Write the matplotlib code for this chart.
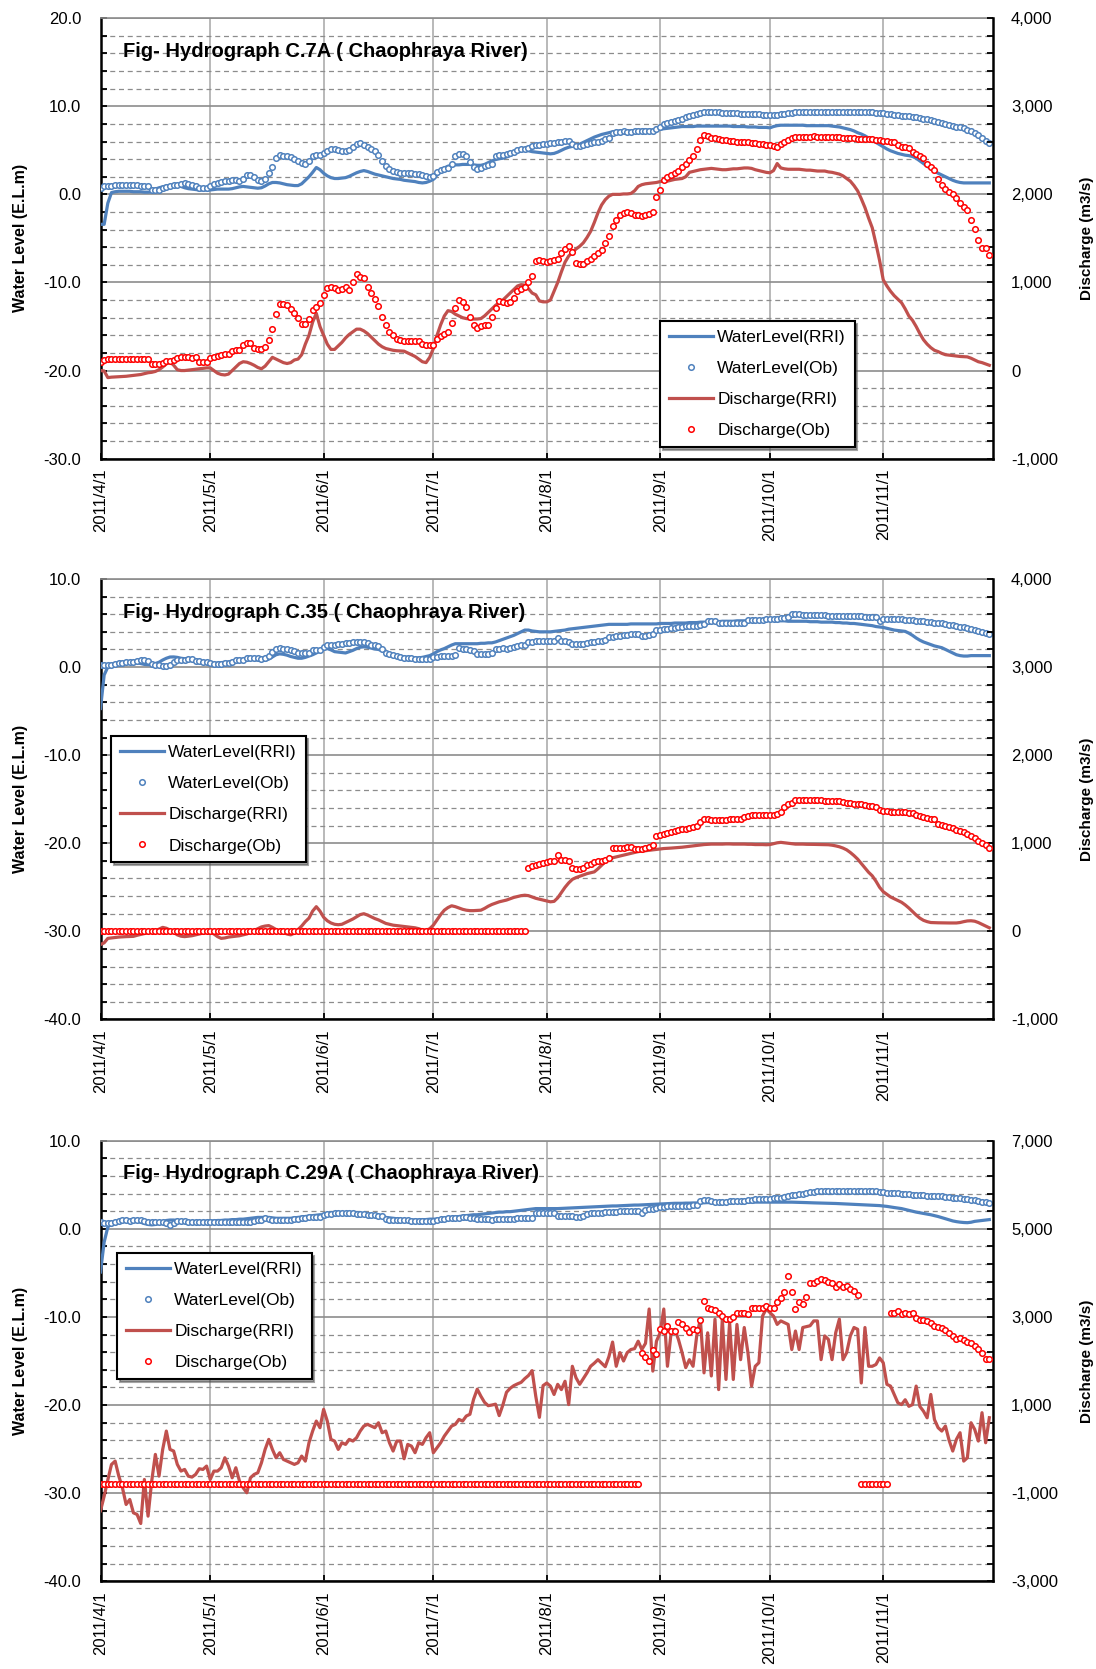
import numpy as np
import pandas as pd
import matplotlib
matplotlib.use('Agg')
import matplotlib.pyplot as plt
from matplotlib.ticker import MultipleLocator, FuncFormatter, FixedLocator

plt.rcParams['font.family'] = ['Liberation Sans', 'DejaVu Sans']

# daily series start on 2011/4/1
start_date = '2011-04-01'
month_starts = ['2011-04-01', '2011-05-01', '2011-06-01', '2011-07-01',
                '2011-08-01', '2011-09-01', '2011-10-01', '2011-11-01']
month_labels = ['2011/4/1', '2011/5/1', '2011/6/1', '2011/7/1',
                '2011/8/1', '2011/9/1', '2011/10/1', '2011/11/1']
legend_labels = ['WaterLevel(RRI)', 'WaterLevel(Ob)', 'Discharge(RRI)', 'Discharge(Ob)']
titles = ['Fig- Hydrograph C.7A ( Chaophraya River)',
          'Fig- Hydrograph C.35 ( Chaophraya River)',
          'Fig- Hydrograph C.29A ( Chaophraya River)']

# ---------------- C.7A ----------------
wl1_rri = [
    -3.4, -3.4, -1.0, 0.2, 0.3, 0.35, 0.35, 0.35, 0.35, 0.3,
    0.3, 0.3, 0.25, 0.25, 0.3, 0.6, 0.75, 0.85, 0.95, 1.0,
    1.05, 1.0, 0.9, 0.75, 0.65, 0.6, 0.55, 0.5, 0.5, 0.5,
    0.5, 0.55, 0.6, 0.6, 0.6, 0.6, 0.65, 0.75, 0.85, 0.9,
    0.85, 0.8, 0.75, 0.7, 0.75, 0.95, 1.2, 1.35, 1.35, 1.3,
    1.2, 1.1, 1.05, 1.0, 1.0, 1.2, 1.6, 2.0, 2.5, 3.05,
    2.8, 2.4, 2.1, 1.9, 1.8, 1.8, 1.85, 1.9, 2.05, 2.25,
    2.45, 2.6, 2.7, 2.6, 2.45, 2.3, 2.2, 2.1, 2.0, 1.9,
    1.8, 1.75, 1.7, 1.6, 1.55, 1.5, 1.45, 1.35, 1.3, 1.35,
    1.5, 1.7, 2.2, 2.7, 3.0, 3.2, 3.3, 3.35, 3.35, 3.4,
    3.4, 3.4, 3.35, 3.3, 3.3, 3.4, 3.6, 3.8, 3.95, 4.05,
    4.1, 4.25, 4.4, 4.6, 4.8, 4.95, 5.0, 4.95, 4.85, 4.8,
    4.75, 4.7, 4.65, 4.6, 4.65, 4.8, 5.0, 5.2, 5.35, 5.45,
    5.6, 5.7, 5.9, 6.1, 6.3, 6.5, 6.65, 6.8, 6.9, 7.0,
    7.1, 7.15, 7.2, 7.2, 7.2, 7.2, 7.25, 7.25, 7.3, 7.3,
    7.3, 7.3, 7.35, 7.4, 7.45, 7.5, 7.55, 7.6, 7.65, 7.7,
    7.7, 7.7, 7.7, 7.75, 7.75, 7.75, 7.75, 7.75, 7.75, 7.75,
    7.75, 7.75, 7.75, 7.7, 7.7, 7.7, 7.7, 7.65, 7.65, 7.65,
    7.6, 7.6, 7.6, 7.55, 7.7, 7.8, 7.85, 7.85, 7.85, 7.85,
    7.85, 7.85, 7.85, 7.8, 7.8, 7.8, 7.8, 7.8, 7.8, 7.8,
    7.75, 7.7, 7.65, 7.55, 7.45, 7.35, 7.2, 7.0, 6.85, 6.65,
    6.4, 6.15, 5.9, 5.65, 5.4, 5.15, 4.95, 4.8, 4.65, 4.55,
    4.45, 4.4, 4.3, 4.1, 3.8, 3.5, 3.2, 2.9, 2.65, 2.4,
    2.2, 2.0, 1.8, 1.6, 1.45, 1.35, 1.3, 1.3, 1.3, 1.3,
    1.3, 1.3, 1.3, 1.3]
wl1_ob = [
    0.7, 0.9, 1.0, 1.0, 1.05, 1.05, 1.05, 1.05, 1.05, 1.05,
    1.05, 1.0, 1.0, 1.0, 0.5, 0.45, 0.5, 0.7, 0.85, 0.95,
    1.05, 1.1, 1.2, 1.25, 1.2, 1.1, 0.9, 0.7, 0.7, 0.75,
    1.0, 1.2, 1.3, 1.4, 1.5, 1.55, 1.6, 1.6, 1.55, 1.8,
    2.2, 2.2, 2.0, 1.6, 1.5, 1.8, 2.4, 3.1, 4.1, 4.5,
    4.4, 4.3, 4.2, 4.0, 3.8, 3.6, 3.4, 3.8, 4.3, 4.5,
    4.5, 4.7, 4.9, 5.1, 5.1, 5.0, 4.9, 4.9, 5.0, 5.4,
    5.7, 5.8, 5.6, 5.4, 5.2, 4.9, 4.5, 3.8, 3.2, 2.9,
    2.6, 2.5, 2.4, 2.4, 2.4, 2.4, 2.35, 2.3, 2.2, 2.1,
    2.0, 2.1, 2.5, 2.8, 2.9, 3.0, 3.5, 4.4, 4.6, 4.6,
    4.3, 3.7, 3.1, 2.9, 3.0, 3.2, 3.3, 3.4, 4.4, 4.5,
    4.5, 4.6, 4.7, 4.8, 5.0, 5.1, 5.2, 5.3, 5.5, 5.6,
    5.6, 5.7, 5.7, 5.8, 5.8, 5.9, 6.0, 6.1, 6.1, 5.7,
    5.5, 5.5, 5.6, 5.7, 5.8, 5.9, 6.0, 6.1, 6.3, 6.4,
    7.0, 7.1, 7.1, 7.15, 7.1, 7.1, 7.15, 7.15, 7.2, 7.2,
    7.2, 7.2, 7.4, 7.7, 8.0, 8.1, 8.2, 8.3, 8.4, 8.6,
    8.8, 8.9, 9.0, 9.1, 9.2, 9.3, 9.3, 9.3, 9.3, 9.3,
    9.25, 9.25, 9.2, 9.2, 9.2, 9.15, 9.15, 9.15, 9.1, 9.1,
    9.1, 9.05, 9.05, 9.0, 9.0, 9.0, 9.1, 9.15, 9.2, 9.25,
    9.3, 9.3, 9.3, 9.3, 9.3, 9.3, 9.3, 9.3, 9.3, 9.3,
    9.3, 9.3, 9.3, 9.3, 9.3, 9.3, 9.3, 9.3, 9.3, 9.3,
    9.3, 9.3, 9.25, 9.25, 9.2, 9.15, 9.1, 9.05, 9.0, 8.95,
    8.9, 8.85, 8.8, 8.75, 8.7, 8.6, 8.5, 8.4, 8.3, 8.2,
    8.1, 8.0, 7.9, 7.8, 7.7, 7.6, 7.5, 7.35, 7.2, 7.0,
    6.7, 6.4, 6.1, 5.8]
q1_rri = [
    0, -5, -80, -75, -72, -70, -68, -65, -60, -55,
    -50, -45, -35, -25, -20, -10, 10, 40, 75, 100,
    60, 10, 0, 0, 5, 10, 15, 20, 25, 30,
    30, 0, -30, -45, -50, -40, 0, 40, 80, 100,
    95, 80, 60, 35, 20, 50, 100, 150, 130, 110,
    90, 80, 90, 120, 130, 180, 300, 400, 550, 650,
    500, 400, 300, 240, 240, 280, 320, 370, 410, 440,
    470, 470, 450, 420, 380, 340, 300, 270, 250, 240,
    230, 225, 222, 220, 200, 180, 160, 130, 100, 90,
    150, 250, 400, 520, 620, 680, 670, 640, 620, 600,
    590, 585, 585, 585, 590, 620, 660, 700, 740, 770,
    800, 840, 880, 920, 960, 975, 970, 930, 880, 860,
    790, 780, 780, 800, 900, 1000, 1120, 1230, 1300, 1340,
    1380, 1410, 1450, 1510, 1580, 1680, 1790, 1880, 1940, 1980,
    2000, 2000, 2000, 2005, 2005, 2010, 2040, 2090, 2110, 2120,
    2125, 2130, 2135, 2145, 2150, 2150, 2160, 2170, 2175, 2180,
    2200, 2250, 2260, 2270, 2280, 2285, 2290, 2295, 2290, 2285,
    2280, 2280, 2285, 2290, 2290, 2295, 2300, 2300, 2295, 2280,
    2270, 2260, 2250, 2245, 2270, 2350, 2300, 2290, 2285, 2285,
    2285, 2285, 2280, 2275, 2275, 2270, 2265, 2265, 2265, 2255,
    2250, 2240, 2230, 2210, 2180, 2150, 2100, 2040, 1950, 1850,
    1730, 1620, 1440, 1250, 1030, 960, 900, 850, 810, 770,
    700, 620, 570, 500, 420, 350, 300, 260, 230, 215,
    195, 180, 175, 170, 165, 160, 158, 155, 140, 120,
    100, 90, 75, 60]
q1_ob = [
    100, 120, 130, 135, 135, 135, 135, 135, 135, 135,
    135, 130, 130, 130, 80, 75, 80, 90, 105, 110,
    115, 140, 150, 150, 150, 145, 150, 100, 95, 100,
    140, 150, 160, 175, 185, 185, 220, 230, 230, 290,
    310, 310, 260, 240, 240, 270, 350, 470, 640, 760,
    760, 740, 700, 650, 600, 530, 530, 590, 690, 720,
    770, 860, 940, 950, 940, 910, 930, 950, 920, 1000,
    1100, 1065, 1050, 950, 875, 810, 730, 610, 520, 440,
    400, 360, 345, 340, 340, 335, 335, 335, 300, 290,
    290, 290, 355, 390, 410, 440, 545, 710, 800, 780,
    720, 605, 520, 480, 510, 515, 520, 610, 710, 790,
    780, 770, 780, 820, 900, 930, 950, 1010, 1070, 1240,
    1250, 1240, 1230, 1240, 1250, 1270, 1330, 1380, 1410, 1350,
    1220, 1210, 1210, 1240, 1270, 1300, 1330, 1370, 1450, 1530,
    1640, 1710, 1770, 1790, 1800, 1790, 1770, 1765, 1760, 1770,
    1780, 1800, 1965, 2050, 2160, 2200, 2220, 2240, 2260, 2310,
    2350, 2390, 2430, 2520, 2620, 2670, 2660, 2640, 2640, 2630,
    2620, 2620, 2610, 2610, 2600, 2600, 2600, 2590, 2580, 2580,
    2575, 2570, 2560, 2555, 2550, 2540, 2570, 2600, 2620, 2640,
    2650, 2655, 2655, 2655, 2655, 2660, 2655, 2655, 2650, 2655,
    2655, 2650, 2650, 2640, 2640, 2635, 2635, 2630, 2630, 2625,
    2625, 2625, 2620, 2615, 2610, 2605, 2600, 2590, 2560, 2540,
    2540, 2530, 2485, 2460, 2430, 2410, 2350, 2310, 2275, 2180,
    2110, 2060, 2030, 2000, 1960, 1900, 1860, 1820, 1710, 1610,
    1480, 1390, 1390, 1310]

# ---------------- C.35 ----------------
wl2_rri = [
    -4.7, -0.9, 0.0, 0.3, 0.4, 0.45, 0.5, 0.55, 0.6, 0.6,
    0.5, 0.4, 0.3, 0.27, 0.3, 0.4, 0.55, 0.8, 1.0, 1.14,
    1.15, 1.1, 1.0, 0.95, 0.85, 0.75, 0.6, 0.5, 0.45, 0.4,
    0.4, 0.4, 0.45, 0.5, 0.55, 0.57, 0.65, 0.75, 0.85, 0.9,
    0.95, 0.9, 0.85, 0.8, 0.78, 0.76, 0.9, 1.15, 1.4, 1.5,
    1.45, 1.35, 1.2, 1.1, 1.0, 1.0, 1.1, 1.25, 1.4, 1.6,
    1.85, 2.05, 2.1, 1.95, 1.75, 1.7, 1.65, 1.6, 1.75, 1.9,
    2.1, 2.25, 2.3, 2.25, 2.15, 2.05, 2.0, 1.85, 1.65, 1.5,
    1.4, 1.3, 1.25, 1.15, 1.1, 1.05, 1.0, 1.05, 1.1, 1.2,
    1.3, 1.5, 1.75, 1.95, 2.1, 2.3, 2.5, 2.65, 2.65, 2.65,
    2.65, 2.65, 2.65, 2.65, 2.7, 2.7, 2.75, 2.75, 2.85, 3.0,
    3.15, 3.3, 3.45, 3.6, 3.8, 4.0, 4.2, 4.2, 4.1, 4.05,
    4.0, 4.0, 4.0, 4.0, 4.05, 4.1, 4.15, 4.2, 4.3, 4.35,
    4.4, 4.45, 4.5, 4.55, 4.6, 4.65, 4.7, 4.75, 4.8, 4.85,
    4.85, 4.85, 4.85, 4.85, 4.85, 4.9, 4.9, 4.9, 4.9, 4.9,
    4.9, 4.9, 4.9, 4.95, 4.95, 4.95, 4.95, 5.0, 5.0, 5.0,
    5.0, 5.05, 5.05, 5.05, 5.1, 5.1, 5.1, 5.15, 5.15, 5.15,
    5.2, 5.2, 5.2, 5.2, 5.25, 5.25, 5.25, 5.25, 5.3, 5.3,
    5.3, 5.3, 5.3, 5.3, 5.3, 5.25, 5.25, 5.25, 5.2, 5.2,
    5.2, 5.2, 5.2, 5.2, 5.15, 5.15, 5.15, 5.1, 5.1, 5.1,
    5.1, 5.05, 5.05, 5.0, 5.0, 4.95, 4.95, 4.9, 4.85, 4.8,
    4.75, 4.7, 4.6, 4.55, 4.5, 4.4, 4.3, 4.2, 4.15, 4.1,
    4.05, 3.85, 3.6, 3.3, 3.05, 2.85, 2.7, 2.55, 2.4, 2.3,
    2.2, 2.0, 1.8, 1.6, 1.4, 1.3, 1.25, 1.25, 1.3, 1.3,
    1.3, 1.3, 1.3, 1.3]
wl2_ob = [
    0.2, 0.27, 0.27, 0.27, 0.3, 0.45, 0.5, 0.55, 0.55, 0.55,
    0.7, 0.76, 0.76, 0.7, 0.3, 0.2, 0.2, 0.15, 0.15, 0.25,
    0.6, 0.76, 0.76, 0.8, 0.9, 0.95, 0.7, 0.64, 0.6, 0.55,
    0.45, 0.4, 0.4, 0.4, 0.45, 0.5, 0.6, 0.76, 0.8, 0.8,
    1.0, 1.0, 1.0, 1.0, 0.95, 1.0, 1.3, 1.7, 2.1, 2.15,
    2.1, 2.0, 1.95, 1.8, 1.6, 1.6, 1.55, 1.65, 1.9, 1.95,
    1.9, 2.3, 2.5, 2.55, 2.55, 2.6, 2.65, 2.7, 2.75, 2.8,
    2.85, 2.85, 2.8, 2.75, 2.5, 2.45, 2.4, 2.0, 1.6, 1.5,
    1.4, 1.3, 1.1, 1.05, 1.0, 1.0, 0.95, 0.95, 0.95, 0.95,
    0.95, 1.1, 1.15, 1.2, 1.25, 1.3, 1.3, 1.35, 2.15, 2.0,
    2.0, 1.95, 1.8, 1.5, 1.45, 1.5, 1.5, 1.6, 2.0, 2.1,
    2.15, 2.1, 2.2, 2.3, 2.4, 2.45, 2.5, 2.85, 2.9, 2.95,
    3.0, 3.0, 3.0, 3.0, 3.0, 3.3, 3.0, 2.95, 2.9, 2.65,
    2.6, 2.6, 2.65, 2.7, 2.85, 2.9, 2.95, 3.0, 3.1, 3.4,
    3.45, 3.5, 3.55, 3.6, 3.65, 3.7, 3.8, 3.8, 3.5, 3.55,
    3.6, 3.7, 4.2, 4.25, 4.3, 4.35, 4.4, 4.45, 4.5, 4.5,
    4.7, 4.7, 4.7, 4.7, 4.75, 4.9, 5.2, 5.2, 5.2, 5.0,
    5.0, 5.0, 5.0, 5.0, 5.0, 5.0, 5.05, 5.3, 5.3, 5.35,
    5.35, 5.35, 5.4, 5.4, 5.4, 5.5, 5.55, 5.6, 5.7, 6.0,
    6.0, 6.0, 5.95, 5.95, 5.95, 5.9, 5.9, 5.9, 5.9, 5.85,
    5.85, 5.85, 5.8, 5.8, 5.8, 5.8, 5.75, 5.75, 5.75, 5.7,
    5.7, 5.7, 5.7, 5.2, 5.5, 5.5, 5.45, 5.45, 5.4, 5.4,
    5.35, 5.35, 5.3, 5.25, 5.2, 5.2, 5.15, 5.1, 5.05, 5.0,
    4.95, 4.9, 4.8, 4.75, 4.65, 4.6, 4.5, 4.4, 4.35, 4.25,
    4.1, 4.0, 3.85, 3.7]
q2_rri = [
    -150, -130, -80, -75, -70, -65, -62, -60, -58, -57,
    -45, -35, -25, -15, -5, 5, 25, 45, 35, 15,
    -10, -40, -55, -60, -55, -50, -40, -30, -20, -15,
    -10, -30, -60, -80, -75, -65, -60, -55, -50, -40,
    -30, -10, 10, 30, 50, 60, 65, 45, 20, 0,
    -15, -30, -40, -20, 20, 60, 110, 150, 230, 280,
    230, 160, 120, 95, 80, 75, 80, 100, 120, 140,
    165, 190, 200, 185, 165, 145, 130, 110, 90, 80,
    70, 65, 60, 55, 50, 45, 40, 30, 15, 10,
    30, 70, 130, 190, 240, 270, 290, 280, 265, 250,
    240, 235, 235, 238, 240, 260, 285, 305, 320, 335,
    345, 355, 370, 385, 395, 405, 410, 405, 390, 375,
    365, 355, 345, 335, 340, 380, 440, 500, 550, 590,
    610, 625, 640, 655, 665, 675, 710, 750, 790, 820,
    835, 845, 855, 865, 875, 885, 895, 905, 910, 915,
    920, 925, 930, 935, 940, 942, 945, 948, 950, 955,
    960, 965, 970, 975, 980, 985, 988, 990, 990, 990,
    990, 992, 992, 990, 990, 990, 990, 988, 988, 985,
    985, 985, 983, 985, 995, 1005, 1010, 1005, 1000, 995,
    990, 990, 990, 988, 988, 987, 986, 985, 985, 983,
    978, 970, 960, 945, 925, 895, 860, 820, 770, 720,
    670, 630, 570, 500, 450, 420, 390, 370, 350, 330,
    300, 265, 225, 185, 150, 125, 110, 100, 98, 97,
    96, 95, 95, 95, 95, 100, 110, 118, 120, 115,
    100, 80, 60, 40]
q2_ob = [0] * 117 + [
    716, 740, 755,
    765, 775, 785, 795, 800, 870, 815, 805, 795, 720,
    710, 710, 715, 750, 770, 790, 800, 800, 810, 830,
    950, 945, 945, 950, 955, 960, 940, 935, 940, 950,
    960, 975, 1080, 1095, 1110, 1120, 1125, 1140, 1150, 1160,
    1165, 1175, 1180, 1200, 1240, 1270, 1270, 1265, 1265, 1260,
    1260, 1265, 1270, 1270, 1275, 1275, 1300, 1310, 1315, 1315,
    1320, 1320, 1320, 1325, 1325, 1330, 1360, 1410, 1440, 1460,
    1495, 1495, 1495, 1495, 1490, 1490, 1490, 1488, 1485, 1485,
    1480, 1478, 1475, 1465, 1460, 1455, 1450, 1445, 1440, 1430,
    1425, 1420, 1410, 1380, 1370, 1365, 1360, 1355, 1355, 1350,
    1350, 1345, 1340, 1315, 1305, 1295, 1285, 1275, 1270, 1220,
    1210, 1200, 1185, 1170, 1150, 1140, 1125, 1110, 1080, 1060,
    1030, 1000, 975, 950]

# ---------------- C.29A ----------------
wl3_rri = [
    -4.9, -1.5, 0.2, 0.6, 0.75, 0.8, 0.85, 0.9, 0.95, 0.95,
    0.9, 0.75, 0.6, 0.5, 0.45, 0.5, 0.65, 0.8, 0.95, 1.0,
    1.0, 0.95, 0.9, 0.85, 0.8, 0.8, 0.8, 0.82, 0.85, 0.87,
    0.9, 0.9, 0.95, 0.95, 1.0, 1.0, 1.05, 1.05, 1.1, 1.1,
    1.15, 1.2, 1.25, 1.3, 1.3, 1.3, 1.3, 1.25, 1.2, 1.2,
    1.2, 1.2, 1.2, 1.25, 1.3, 1.35, 1.4, 1.45, 1.5, 1.55,
    1.6, 1.6, 1.62, 1.64, 1.66, 1.68, 1.7, 1.7, 1.7, 1.7,
    1.68, 1.65, 1.6, 1.55, 1.5, 1.45, 1.4, 1.35, 1.3, 1.25,
    1.2, 1.15, 1.1, 1.05, 1.0, 1.0, 1.0, 1.0, 1.05, 1.05,
    1.1, 1.1, 1.1, 1.15, 1.2, 1.25, 1.3, 1.35, 1.4, 1.45,
    1.5, 1.55, 1.6, 1.6, 1.65, 1.7, 1.75, 1.8, 1.85, 1.9,
    1.9, 1.95, 1.95, 2.0, 2.05, 2.1, 2.15, 2.2, 2.25, 2.3,
    2.3, 2.3, 2.3, 2.3, 2.3, 2.3, 2.32, 2.34, 2.36, 2.38,
    2.4, 2.42, 2.44, 2.46, 2.48, 2.5, 2.52, 2.54, 2.56, 2.58,
    2.6, 2.6, 2.62, 2.64, 2.66, 2.68, 2.7, 2.7, 2.72, 2.74,
    2.76, 2.78, 2.8, 2.82, 2.84, 2.86, 2.88, 2.9, 2.9, 2.9,
    2.92, 2.92, 2.94, 2.94, 2.96, 2.96, 2.98, 2.98, 3.0, 3.0,
    3.0, 3.0, 3.02, 3.02, 3.04, 3.04, 3.04, 3.05, 3.05, 3.05,
    3.05, 3.05, 3.05, 3.05, 3.05, 3.05, 3.05, 3.04, 3.04, 3.03,
    3.02, 3.0, 3.0, 2.98, 2.96, 2.95, 2.94, 2.93, 2.92, 2.9,
    2.9, 2.88, 2.86, 2.84, 2.82, 2.8, 2.78, 2.76, 2.74, 2.72,
    2.7, 2.68, 2.66, 2.64, 2.6, 2.55, 2.48, 2.42, 2.36, 2.3,
    2.2, 2.1, 2.0, 1.9, 1.82, 1.75, 1.68, 1.6, 1.5, 1.4,
    1.28, 1.15, 1.02, 0.9, 0.82, 0.76, 0.72, 0.7, 0.75, 0.85,
    0.9, 0.95, 1.0, 1.05]
wl3_ob = [
    0.76, 0.7, 0.64, 0.7, 0.8, 0.9, 0.95, 0.95, 0.9, 0.95,
    0.95, 0.95, 0.9, 0.8, 0.76, 0.76, 0.76, 0.76, 0.7, 0.45,
    0.7, 0.87, 0.87, 0.85, 0.8, 0.8, 0.78, 0.76, 0.76, 0.76,
    0.76, 0.76, 0.76, 0.76, 0.78, 0.8, 0.8, 0.8, 0.78, 0.76,
    0.76, 0.8, 0.9, 0.95, 1.05, 1.2, 1.15, 0.95, 0.95, 0.95,
    0.95, 0.95, 0.95, 1.1, 1.15, 1.2, 1.25, 1.3, 1.3, 1.3,
    1.4, 1.6, 1.65, 1.7, 1.75, 1.8, 1.8, 1.8, 1.75, 1.75,
    1.7, 1.7, 1.65, 1.6, 1.6, 1.55, 1.5, 1.5, 1.1, 1.05,
    1.0, 1.0, 0.95, 0.95, 0.95, 0.9, 0.87, 0.87, 0.87, 0.87,
    0.87, 0.9, 1.06, 1.1, 1.15, 1.2, 1.2, 1.2, 1.2, 1.3,
    1.3, 1.25, 1.2, 1.15, 1.1, 1.1, 1.1, 1.06, 1.08, 1.1,
    1.1, 1.12, 1.14, 1.16, 1.18, 1.2, 1.2, 1.2, 1.2, 1.8,
    1.8, 1.8, 1.8, 1.8, 1.75, 1.5, 1.5, 1.5, 1.5, 1.45,
    1.4, 1.4, 1.45, 1.7, 1.75, 1.8, 1.8, 1.85, 1.9, 1.9,
    1.95, 1.95, 2.0, 2.0, 2.0, 2.05, 2.05, 2.0, 1.85, 2.1,
    2.2, 2.3, 2.4, 2.5, 2.5, 2.6, 2.6, 2.6, 2.65, 2.65,
    2.65, 2.65, 2.7, 2.7, 3.15, 3.25, 3.3, 3.15, 3.1, 3.1,
    3.1, 3.1, 3.12, 3.12, 3.12, 3.15, 3.15, 3.3, 3.3, 3.35,
    3.35, 3.4, 3.4, 3.4, 3.45, 3.45, 3.5, 3.6, 3.7, 3.8,
    3.85, 3.9, 4.0, 4.1, 4.2, 4.2, 4.25, 4.3, 4.3, 4.3,
    4.3, 4.3, 4.3, 4.3, 4.3, 4.3, 4.3, 4.3, 4.3, 4.3,
    4.3, 4.3, 4.28, 4.2, 4.15, 4.1, 4.1, 4.05, 4.05, 3.95,
    3.9, 3.9, 3.88, 3.85, 3.82, 3.8, 3.78, 3.75, 3.72, 3.7,
    3.68, 3.65, 3.6, 3.55, 3.5, 3.45, 3.4, 3.35, 3.3, 3.25,
    3.15, 3.1, 3.0, 2.95]
q3_rri = [
    -1400, -1070, -700, -350, -273, -614, -879, -1258, -1144, -1447,
    -1485, -1690, -690, -1523, -727, -121, -614, -8, 409, -8,
    -45, -348, -500, -462, -614, -636, -576, -447, -462, -386,
    -690, -500, -500, -424, -197, -386, -652, -424, -727, -879,
    -992, -652, -576, -538, -311, -8, 220, -8, -197, -83,
    -235, -273, -311, -348, -311, -159, -273, 144, 409, 636,
    485, 902, 636, 220, 182, -8, 144, 106, 220, 182,
    258, 409, 523, 561, 523, 485, 598, 371, 409, 144,
    -45, 182, 182, -220, 106, 68, -83, 144, 106, 258,
    371, -83, 30, 144, 295, 409, 523, 561, 674, 636,
    750, 790, 1130, 1360, 1200, 1060, 985, 1000, 1020, 760,
    1000, 1290, 1380, 1440, 1480, 1515, 1600, 1670, 1780, 1200,
    720, 1440, 1500, 1430, 1240, 1470, 1350, 1540, 1010, 1880,
    1620, 1470, 1600, 1730, 1880, 1950, 2030, 1950, 1870, 2100,
    2430, 1880, 2190, 2000, 2190, 2260, 2280, 2450, 2260, 2400,
    3180, 1770, 2450, 2640, 3180, 1880, 2640, 2720, 2490, 2190,
    1850, 2030, 1880, 2570, 2950, 1730, 2640, 1660, 2950, 1350,
    2950, 1580, 2870, 1580, 2830, 2030, 2760, 2190, 1430, 1880,
    1960, 3020, 3180, 3100, 3020, 2830, 2910, 2870, 2830, 2260,
    2680, 2260, 2760, 2780, 2800, 2910, 2910, 2030, 2570, 2490,
    2030, 2640, 2950, 2030, 2190, 2570, 2760, 2720, 1500, 2760,
    1880, 1880, 1920, 2070, 1960, 1470, 1430, 1240, 1050, 1010,
    1120, 970, 1010, 1430, 970, 860, 710, 1240, 670, 485,
    409, 523, 200, -45, 220, 371, -273, -197, 598, 447,
    182, 826, 144, 712]
q3_ob = [-790] * 148 + [
    2190, 2100,
    2000, 2260, 2150, 2720, 2680, 2800, 2680, 2680, 2890, 2830,
    2740, 2660, 2720, 2700, 2930, 3370, 3210, 3190, 3160, 3080,
    3020, 2950, 2950, 2990, 3100, 3100, 3100, 3060, 3210, 3210,
    3210, 3210, 3250, 3210, 3210, 3330, 3440, 3560, 3940, 3560,
    3190, 3330, 3290, 3460, 3770, 3770, 3820, 3860, 3840, 3800,
    3770, 3670, 3750, 3670, 3710, 3630, 3590, 3500] + [-790] * 8 + [
    3080, 3080, 3140, 3060,
    3100, 3060, 3080, 2970, 2930, 2930, 2910, 2870, 2800, 2780,
    2760, 2700, 2640, 2570, 2510, 2530, 2480, 2420, 2400, 2330,
    2280, 2170, 2050, 2050]

panels = [
    dict(title=titles[0], wl_rri=wl1_rri, wl_ob=wl1_ob, q_rri=q1_rri, q_ob=q1_ob,
         wl_lim=(-30, 20), q_lim=(-1000, 4000), q_step=1000, q_minor=200,
         bottom=0.7252, leg=(0.627, 0.3124)),
    dict(title=titles[1], wl_rri=wl2_rri, wl_ob=wl2_ob, q_rri=q2_rri, q_ob=q2_ob,
         wl_lim=(-40, 10), q_lim=(-1000, 4000), q_step=1000, q_minor=200,
         bottom=0.3892, leg=(0.0118, 0.6427)),
    dict(title=titles[2], wl_rri=wl3_rri, wl_ob=wl3_ob, q_rri=q3_rri, q_ob=q3_ob,
         wl_lim=(-40, 10), q_lim=(-3000, 7000), q_step=2000, q_minor=400,
         bottom=0.0526, leg=(0.0185, 0.7447)),
]

blue = '#4F81BD'
dark_red = '#C0504D'
grid_c = '#8C8C8C'


def dates_for(vals):
    return pd.date_range(start_date, periods=len(vals), freq='D')


fig = plt.figure(figsize=(10.96, 16.69), dpi=100)

for p in panels:
    ax = fig.add_axes([0.0917, p['bottom'], 0.8143, 0.2639])
    ax2 = ax.twinx()

    l1, = ax.plot(dates_for(p['wl_rri']), p['wl_rri'], color=blue, lw=2.3, zorder=3)
    m1, = ax.plot(dates_for(p['wl_ob']), p['wl_ob'], ls='none', marker='o', ms=4,
                  mfc='white', mec=blue, mew=1.1, zorder=4)
    l2, = ax2.plot(dates_for(p['q_rri']), p['q_rri'], color=dark_red, lw=2.3, zorder=3)
    m2, = ax2.plot(dates_for(p['q_ob']), p['q_ob'], ls='none', marker='o', ms=4,
                   mfc='white', mec='red', mew=1.1, zorder=4)

    ax.set_xlim(pd.Timestamp('2011-04-01'), pd.Timestamp('2011-12-01'))
    ax.set_ylim(*p['wl_lim'])
    ax2.set_ylim(*p['q_lim'])

    lo, hi = p['q_lim']
    ax.yaxis.set_major_locator(MultipleLocator(10))
    ax.yaxis.set_minor_locator(MultipleLocator(2))
    ax.yaxis.set_major_formatter(FuncFormatter(lambda v, pos: f'{v:.1f}'))
    ax2.yaxis.set_major_locator(FixedLocator(np.arange(lo, hi + 1, p['q_step'])))
    ax2.yaxis.set_minor_locator(FixedLocator(np.arange(lo, hi + 1, p['q_minor'])))
    ax2.yaxis.set_major_formatter(FuncFormatter(lambda v, pos: f'{v:,.0f}'))

    ax.xaxis.set_major_locator(FixedLocator(matplotlib.dates.date2num(pd.to_datetime(month_starts))))
    ax.set_xticklabels(month_labels)

    ax.set_axisbelow(True)
    ax.grid(which='major', axis='y', color=grid_c, lw=1.2, ls='-')
    ax.grid(which='minor', axis='y', color=grid_c, lw=0.9, ls=(0, (4, 3)))
    ax.grid(which='major', axis='x', color='#A6A6A6', lw=1.1, ls='-')

    for s in ['left', 'bottom']:
        ax.spines[s].set_linewidth(1.8)
        ax.spines[s].set_color('black')
    ax.spines['right'].set_visible(False)
    ax.spines['top'].set_color(grid_c)
    ax.spines['top'].set_linewidth(1.2)
    ax2.spines['right'].set_linewidth(1.8)
    for s in ['left', 'bottom', 'top']:
        ax2.spines[s].set_visible(False)

    ax.tick_params(axis='y', which='both', direction='in', length=4.5, width=1.3,
                   labelsize=12, pad=14)
    ax.tick_params(axis='x', which='major', direction='in', length=4.5, width=1.3,
                   labelsize=12, pad=7, labelrotation=90)
    ax2.tick_params(axis='y', which='both', direction='in', length=4.5, width=1.3,
                    labelsize=12, pad=13)

    ax.set_ylabel('Water Level (E.L.m)', fontsize=11.5, fontweight='bold', va='center')
    ax.yaxis.set_label_coords(-0.0902, 0.5)
    ax2.set_ylabel('Discharge (m3/s)', fontsize=11, fontweight='bold', rotation=90,
                   va='center')
    ax2.yaxis.set_label_coords(1.105, 0.5)

    ax.text(0.0252, 0.925, p['title'], transform=ax.transAxes, fontsize=14.5,
            fontweight='bold', ha='left', va='center', zorder=5)

    leg = ax2.legend([l1, m1, l2, m2], legend_labels, loc='upper left',
                     bbox_to_anchor=p['leg'], fontsize=12.5, frameon=True,
                     fancybox=False, shadow=True, edgecolor='black', framealpha=1,
                     borderpad=0.5, labelspacing=0.92, handlelength=2.55,
                     handletextpad=0.25, borderaxespad=0)
    leg.get_frame().set_linewidth(1.5)

fig.savefig('out.png', dpi=100)
